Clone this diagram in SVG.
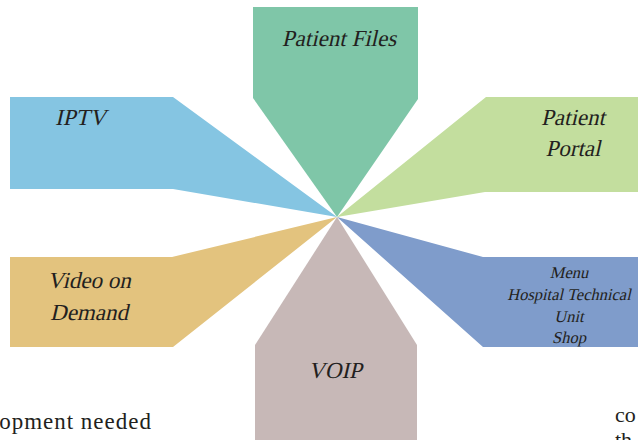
<svg xmlns="http://www.w3.org/2000/svg" width="638" height="440" viewBox="0 0 638 440">
<style>
.lbl{font-family:"Liberation Serif","DejaVu Serif",serif;fill:#231F20;font-size:23px}
.sm{font-size:16.5px}
.page{font-family:"Liberation Serif","DejaVu Serif",serif;fill:#231F20;font-size:23px;letter-spacing:1px}
.pr{font-family:"Liberation Serif","DejaVu Serif",serif;fill:#231F20;font-size:22px}
</style>
<rect width="638" height="440" fill="#ffffff"/>
<g id="connectors"></g>
<g id="iptv">
<polygon points="10,97 173,97 337,217 173,189 10,189" fill="#85C5E2"/>
<text class="lbl" transform="translate(55,125) skewX(-13)" font-size="24">IPTV</text>
</g>
<g id="patient-files">
<polygon points="253,7 418,7 418,99 337,217 253,98" fill="#7FC6A8"/>
<text class="lbl" transform="translate(339,46) skewX(-13)" text-anchor="middle">Patient Files</text>
</g>
<g id="patient-portal">
<polygon points="486,97 638,97 638,192 485,192 337,217" fill="#C3DE9E"/>
<text class="lbl" transform="translate(573,125) skewX(-13)" text-anchor="middle">Patient</text>
<text class="lbl" transform="translate(573,156) skewX(-13)" text-anchor="middle">Portal</text>
</g>
<g id="video-on-demand">
<polygon points="10,257 172,257 337,217 173,347 10,347" fill="#E3C37E"/>
<text class="lbl" transform="translate(89,288) skewX(-13)" text-anchor="middle">Video on</text>
<text class="lbl" transform="translate(89,320) skewX(-13)" text-anchor="middle">Demand</text>
</g>
<g id="voip">
<polygon points="337,217 417,345 417,440 255,440 255,345" fill="#C7B8B7"/>
<text class="lbl" transform="translate(335,378) skewX(-13)" text-anchor="middle">VOIP</text>
</g>
<g id="menu">
<polygon points="337,217 483,257 638,257 638,347 483,347" fill="#7F9CCB"/>
<text class="lbl sm" transform="translate(569,278) skewX(-13)" text-anchor="middle">Menu</text>
<text class="lbl sm" transform="translate(569,300) skewX(-13)" text-anchor="middle">Hospital Technical</text>
<text class="lbl sm" transform="translate(569,322) skewX(-13)" text-anchor="middle">Unit</text>
<text class="lbl sm" transform="translate(569,343) skewX(-13)" text-anchor="middle">Shop</text>
</g>
<text class="page" x="152" y="429" text-anchor="end">opment needed</text>
<text class="pr" x="615" y="422">co</text>
<text class="pr" x="615" y="447">th</text>
</svg>
